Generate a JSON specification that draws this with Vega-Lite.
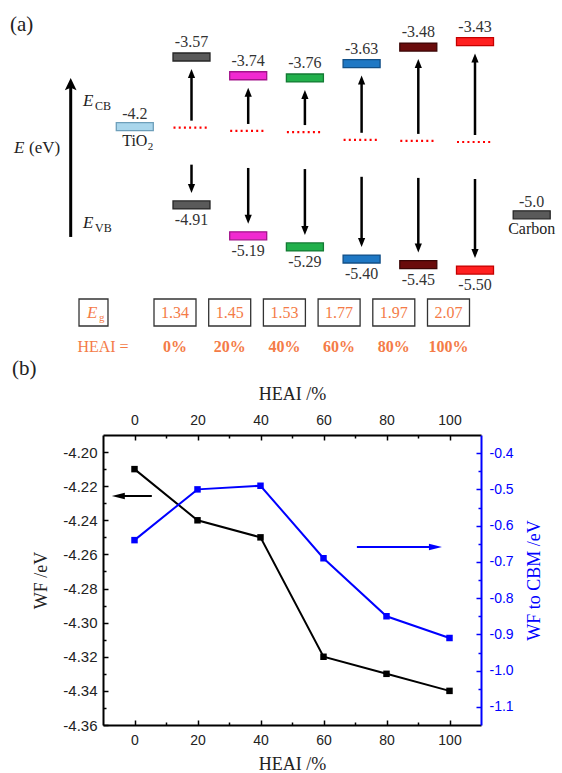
{
  "$schema": "https://vega.github.io/schema/vega-lite/v6.json",
  "autosize": {"type": "pad"},
  "padding": {"left": 10, "top": 8, "right": 0, "bottom": 0},
  "bounds": "flush",
  "spacing": 20,
  "background": "white",
  "config": {
    "view": {"stroke": null},
    "font": "Liberation Serif",
    "axis": {
      "grid": false,
      "labelFont": "Liberation Sans",
      "labelFontSize": 14,
      "labelColor": "#222",
      "titleFont": "Liberation Serif",
      "titleFontSize": 18,
      "titleFontWeight": "normal",
      "titleColor": "#222",
      "domainColor": "#000",
      "domainWidth": 2,
      "tickColor": "#000",
      "tickWidth": 1.5,
      "labelFlush": false,
      "labelOverlap": false
    }
  },
  "datasets": {
    "hea": [
      {"s": "0%", "h": 0, "cb": -3.57, "vb": -4.91, "wf": -4.21, "wfc": -0.64, "eg": "1.34", "cbl": "-3.57", "vbl": "-4.91"},
      {"s": "20%", "h": 20, "cb": -3.74, "vb": -5.19, "wf": -4.24, "wfc": -0.50, "eg": "1.45", "cbl": "-3.74", "vbl": "-5.19"},
      {"s": "40%", "h": 40, "cb": -3.76, "vb": -5.29, "wf": -4.25, "wfc": -0.49, "eg": "1.53", "cbl": "-3.76", "vbl": "-5.29"},
      {"s": "60%", "h": 60, "cb": -3.63, "vb": -5.40, "wf": -4.32, "wfc": -0.69, "eg": "1.77", "cbl": "-3.63", "vbl": "-5.40"},
      {"s": "80%", "h": 80, "cb": -3.48, "vb": -5.45, "wf": -4.33, "wfc": -0.85, "eg": "1.97", "cbl": "-3.48", "vbl": "-5.45"},
      {"s": "100%", "h": 100, "cb": -3.43, "vb": -5.50, "wf": -4.34, "wfc": -0.91, "eg": "2.07", "cbl": "-3.43", "vbl": "-5.50"}
    ],
    "ref": [
      {"s": "TiO2", "e": -4.2, "lab": "-4.2", "name": "TiO", "sub": "2"},
      {"s": "Carbon", "e": -5.0, "lab": "-5.0", "name": "Carbon", "sub": ""}
    ],
    "ann": [
      {"s": "axis", "k": "arrow", "lo": -5.2, "hi": -3.76},
      {"s": "axis", "k": "panel", "t": "(a)", "e": -3.28},
      {"s": "axis", "k": "Eaxis", "t": "E", "t2": "(eV)", "e": -4.394},
      {"s": "axis", "k": "Elev", "t": "E", "t2": "CB", "e": -3.97},
      {"s": "axis", "k": "Elev", "t": "E", "t2": "VB", "e": -5.07}
    ],
    "eglab": [{"k": "Eg", "t1": "E", "t2": "g", "t3": "HEAI ="}],
    "arrB": [
      {"c": "k", "x1": 5.5, "x2": -7.2, "y": -4.2258},
      {"c": "b", "x1": 70.6, "x2": 97.6, "y": -0.659}
    ]
  },
  "vconcat": [
    {
      "width": 440,
      "height": 407,
      "resolve": {"scale": {"x": "independent", "y": "independent"}},
      "layer": [
        {
          "layer": [
            {
              "data": {"name": "hea"},
              "mark": {"type": "rule", "color": "#000", "strokeWidth": 2.5, "yOffset": -7, "y2Offset": 16},
              "encoding": {
                "x": {"field": "s", "type": "nominal", "axis": null, "scale": {"type": "point", "domain": ["axis", "TiO2", "0%", "20%", "40%", "60%", "80%", "100%", "Carbon"], "range": [-24.9, 428.7], "padding": 0}},
                "y": {"field": "wf", "type": "quantitative", "axis": null, "scale": {"domain": [-6.8128, -3.1262], "nice": false, "zero": false}},
                "y2": {"field": "cb"}
              }
            },
            {
              "data": {"name": "hea"},
              "mark": {"type": "point", "shape": "M0,-1L-0.8,1L0.8,1Z", "size": 81, "filled": true, "color": "#000", "opacity": 1, "strokeWidth": 0, "yOffset": 16.5},
              "encoding": {
                "x": {"field": "s", "type": "nominal", "axis": null},
                "y": {"field": "cb", "type": "quantitative", "axis": null}
              }
            },
            {
              "data": {"name": "hea"},
              "mark": {"type": "rule", "color": "#000", "strokeWidth": 2.5, "yOffset": 37, "y2Offset": -16},
              "encoding": {
                "x": {"field": "s", "type": "nominal", "axis": null},
                "y": {"field": "wf", "type": "quantitative", "axis": null},
                "y2": {"field": "vb"}
              }
            },
            {
              "data": {"name": "hea"},
              "mark": {"type": "point", "shape": "M0,1L-0.8,-1L0.8,-1Z", "size": 81, "filled": true, "color": "#000", "opacity": 1, "strokeWidth": 0, "yOffset": -16.5},
              "encoding": {
                "x": {"field": "s", "type": "nominal", "axis": null},
                "y": {"field": "vb", "type": "quantitative", "axis": null}
              }
            },
            {
              "data": {"name": "hea"},
              "mark": {"type": "point", "shape": "M-1,0L1,0", "size": 1296, "filled": false, "stroke": "#FF0000", "strokeWidth": 2.2, "strokeDash": [2, 3.2], "opacity": 1},
              "encoding": {
                "x": {"field": "s", "type": "nominal", "axis": null},
                "y": {"field": "wf", "type": "quantitative", "axis": null}
              }
            },
            {
              "data": {"name": "hea"},
              "mark": {"type": "point", "shape": "M-1,-0.216L1,-0.216L1,0.216L-1,0.216Z", "size": 1369, "filled": true, "opacity": 1, "strokeWidth": 1.3},
              "encoding": {
                "x": {"field": "s", "type": "nominal", "axis": null},
                "y": {"field": "cb", "type": "quantitative", "axis": null},
                "fill": {"field": "s", "type": "nominal", "legend": null, "scale": {"domain": ["TiO2", "0%", "20%", "40%", "60%", "80%", "100%", "Carbon"], "range": ["#A9D6EC", "#5A5A5A", "#F02AD0", "#22B04C", "#1F78C4", "#6A0C0C", "#FF2020", "#5A5A5A"]}},
                "stroke": {"field": "s", "type": "nominal", "legend": null, "scale": {"domain": ["TiO2", "0%", "20%", "40%", "60%", "80%", "100%", "Carbon"], "range": ["#6E9FBA", "#262626", "#A3148C", "#137A33", "#124F86", "#3A0505", "#C40000", "#262626"]}}
              }
            },
            {
              "data": {"name": "hea"},
              "mark": {"type": "point", "shape": "M-1,-0.216L1,-0.216L1,0.216L-1,0.216Z", "size": 1369, "filled": true, "opacity": 1, "strokeWidth": 1.3},
              "encoding": {
                "x": {"field": "s", "type": "nominal", "axis": null},
                "y": {"field": "vb", "type": "quantitative", "axis": null},
                "fill": {"field": "s", "type": "nominal", "legend": null},
                "stroke": {"field": "s", "type": "nominal", "legend": null}
              }
            },
            {
              "data": {"name": "ref"},
              "mark": {"type": "point", "shape": "M-1,-0.216L1,-0.216L1,0.216L-1,0.216Z", "size": 1369, "filled": true, "opacity": 1, "strokeWidth": 1.3},
              "encoding": {
                "x": {"field": "s", "type": "nominal", "axis": null},
                "y": {"field": "e", "type": "quantitative", "axis": null},
                "fill": {"field": "s", "type": "nominal", "legend": null},
                "stroke": {"field": "s", "type": "nominal", "legend": null}
              }
            },
            {
              "data": {"name": "hea"},
              "mark": {"type": "text", "font": "Liberation Serif", "fontSize": 16, "color": "#333", "align": "center", "baseline": "alphabetic", "dy": -10},
              "encoding": {
                "x": {"field": "s", "type": "nominal", "axis": null},
                "y": {"field": "cb", "type": "quantitative", "axis": null},
                "text": {"field": "cbl"}
              }
            },
            {
              "data": {"name": "hea"},
              "mark": {"type": "text", "font": "Liberation Serif", "fontSize": 16, "color": "#333", "align": "center", "baseline": "alphabetic", "dy": 20},
              "encoding": {
                "x": {"field": "s", "type": "nominal", "axis": null},
                "y": {"field": "vb", "type": "quantitative", "axis": null},
                "text": {"field": "vbl"}
              }
            },
            {
              "data": {"name": "ref"},
              "mark": {"type": "text", "font": "Liberation Serif", "fontSize": 16, "color": "#333", "align": "center", "baseline": "alphabetic", "dy": -8},
              "encoding": {
                "x": {"field": "s", "type": "nominal", "axis": null},
                "y": {"field": "e", "type": "quantitative", "axis": null},
                "text": {"field": "lab"}
              }
            },
            {
              "data": {"name": "ref"},
              "mark": {"type": "text", "font": "Liberation Serif", "fontSize": 16, "color": "#222", "align": "center", "baseline": "alphabetic", "dy": 19.5},
              "encoding": {
                "x": {"field": "s", "type": "nominal", "axis": null},
                "y": {"field": "e", "type": "quantitative", "axis": null},
                "text": {"field": "name"}
              }
            },
            {
              "data": {"name": "ref"},
              "mark": {"type": "text", "font": "Liberation Serif", "fontSize": 11, "color": "#222", "align": "left", "baseline": "alphabetic", "dx": 13, "dy": 23},
              "encoding": {
                "x": {"field": "s", "type": "nominal", "axis": null},
                "y": {"field": "e", "type": "quantitative", "axis": null},
                "text": {"field": "sub"}
              }
            },
            {
              "data": {"name": "ann"},
              "transform": [{"filter": "datum.k == 'arrow'"}],
              "mark": {"type": "rule", "color": "#000", "strokeWidth": 3, "xOffset": -7.4, "x2Offset": -7.4, "y2Offset": 6},
              "encoding": {
                "x": {"field": "s", "type": "nominal", "axis": null},
                "y": {"field": "lo", "type": "quantitative", "axis": null},
                "y2": {"field": "hi"}
              }
            },
            {
              "data": {"name": "ann"},
              "transform": [{"filter": "datum.k == 'arrow'"}],
              "mark": {"type": "point", "shape": "M0,-1L-0.9,0.9L0,0.5L0.9,0.9Z", "size": 169, "filled": true, "color": "#000", "opacity": 1, "strokeWidth": 0, "xOffset": -7.4, "yOffset": 6.5},
              "encoding": {
                "x": {"field": "s", "type": "nominal", "axis": null},
                "y": {"field": "hi", "type": "quantitative", "axis": null}
              }
            },
            {
              "data": {"name": "ann"},
              "transform": [{"filter": "datum.k == 'panel'"}],
              "mark": {"type": "text", "font": "Liberation Serif", "fontSize": 21, "color": "#222", "align": "left", "baseline": "middle", "dx": -68.1},
              "encoding": {
                "x": {"field": "s", "type": "nominal", "axis": null},
                "y": {"field": "e", "type": "quantitative", "axis": null},
                "text": {"field": "t"}
              }
            },
            {
              "data": {"name": "ann"},
              "transform": [{"filter": "datum.k == 'Eaxis'"}],
              "mark": {"type": "text", "font": "Liberation Serif", "fontSize": 17, "fontStyle": "italic", "color": "#222", "align": "left", "baseline": "middle", "dx": -64.1},
              "encoding": {
                "x": {"field": "s", "type": "nominal", "axis": null},
                "y": {"field": "e", "type": "quantitative", "axis": null},
                "text": {"field": "t"}
              }
            },
            {
              "data": {"name": "ann"},
              "transform": [{"filter": "datum.k == 'Eaxis'"}],
              "mark": {"type": "text", "font": "Liberation Serif", "fontSize": 17, "color": "#222", "align": "left", "baseline": "middle", "dx": -49.1},
              "encoding": {
                "x": {"field": "s", "type": "nominal", "axis": null},
                "y": {"field": "e", "type": "quantitative", "axis": null},
                "text": {"field": "t2"}
              }
            },
            {
              "data": {"name": "ann"},
              "transform": [{"filter": "datum.k == 'Elev'"}],
              "mark": {"type": "text", "font": "Liberation Serif", "fontSize": 17, "fontStyle": "italic", "color": "#222", "align": "left", "baseline": "middle", "dx": 4.9},
              "encoding": {
                "x": {"field": "s", "type": "nominal", "axis": null},
                "y": {"field": "e", "type": "quantitative", "axis": null},
                "text": {"field": "t"}
              }
            },
            {
              "data": {"name": "ann"},
              "transform": [{"filter": "datum.k == 'Elev'"}],
              "mark": {"type": "text", "font": "Liberation Serif", "fontSize": 12, "color": "#222", "align": "left", "baseline": "middle", "dx": 16.9, "dy": 5},
              "encoding": {
                "x": {"field": "s", "type": "nominal", "axis": null},
                "y": {"field": "e", "type": "quantitative", "axis": null},
                "text": {"field": "t2"}
              }
            }
          ]
        },
        {
          "layer": [
            {
              "data": {"name": "hea"},
              "mark": {"type": "point", "shape": "M-1,-0.643L1,-0.643L1,0.643L-1,0.643Z", "size": 1764, "filled": false, "stroke": "#333", "strokeWidth": 1.3, "opacity": 1},
              "encoding": {
                "x": {"field": "s", "type": "nominal", "axis": null, "scale": {"type": "point", "domain": ["Eg", "0%", "20%", "40%", "60%", "80%", "100%"], "range": [17.3, 345.5], "padding": 0}},
                "y": {"datum": "box", "type": "nominal", "axis": null, "scale": {"type": "point", "domain": ["box", "pct"], "range": [304.5, 339], "padding": 0}}
              }
            },
            {
              "data": {"name": "hea"},
              "mark": {"type": "text", "font": "Liberation Serif", "fontSize": 16, "color": "#F47B47", "align": "center", "baseline": "middle"},
              "encoding": {
                "x": {"field": "s", "type": "nominal", "axis": null},
                "y": {"datum": "box", "type": "nominal", "axis": null},
                "text": {"field": "eg"}
              }
            },
            {
              "data": {"name": "hea"},
              "mark": {"type": "text", "font": "Liberation Serif", "fontSize": 16, "fontWeight": "bold", "color": "#F47B47", "align": "center", "baseline": "middle"},
              "encoding": {
                "x": {"field": "s", "type": "nominal", "axis": null},
                "y": {"datum": "pct", "type": "nominal", "axis": null},
                "text": {"field": "s"}
              }
            },
            {
              "data": {"name": "eglab"},
              "mark": {"type": "point", "shape": "M-0.69,-0.643L0.69,-0.643L0.69,0.643L-0.69,0.643Z", "size": 1764, "filled": false, "stroke": "#333", "strokeWidth": 1.3, "opacity": 1, "xOffset": -26.8},
              "encoding": {
                "x": {"field": "k", "type": "nominal", "axis": null},
                "y": {"datum": "box", "type": "nominal", "axis": null}
              }
            },
            {
              "data": {"name": "eglab"},
              "mark": {"type": "text", "font": "Liberation Serif", "fontSize": 17, "fontStyle": "italic", "color": "#F47B47", "align": "left", "baseline": "middle", "dx": -33.3},
              "encoding": {
                "x": {"field": "k", "type": "nominal", "axis": null},
                "y": {"datum": "box", "type": "nominal", "axis": null},
                "text": {"field": "t1"}
              }
            },
            {
              "data": {"name": "eglab"},
              "mark": {"type": "text", "font": "Liberation Serif", "fontSize": 11, "color": "#F47B47", "align": "left", "baseline": "alphabetic", "dx": -21.3, "dy": 8.5},
              "encoding": {
                "x": {"field": "k", "type": "nominal", "axis": null},
                "y": {"datum": "box", "type": "nominal", "axis": null},
                "text": {"field": "t2"}
              }
            },
            {
              "data": {"name": "eglab"},
              "mark": {"type": "text", "font": "Liberation Serif", "fontSize": 16, "color": "#F47B47", "align": "center", "baseline": "middle", "dx": -17.3},
              "encoding": {
                "x": {"field": "k", "type": "nominal", "axis": null},
                "y": {"datum": "pct", "type": "nominal", "axis": null},
                "text": {"field": "t3"}
              }
            }
          ]
        }
      ]
    },
    {
      "width": 378,
      "height": 290,
      "title": {"text": "(b)", "anchor": "start", "frame": "group", "align": "left", "dx": -91, "offset": 6, "font": "Liberation Serif", "fontSize": 21, "fontWeight": "normal", "color": "#222"},
      "resolve": {"scale": {"y": "independent"}, "axis": {"x": "independent", "y": "independent"}},
      "layer": [
        {
          "data": {"name": "hea"},
          "mark": {"type": "line", "color": "#000", "strokeWidth": 2, "point": {"shape": "square", "size": 42, "filled": true, "color": "#000", "opacity": 1}},
          "encoding": {
            "x": {"field": "h", "type": "quantitative", "scale": {"domain": [-10, 110], "nice": false, "zero": false},
                  "axis": {"orient": "bottom", "values": [0, 20, 40, 60, 80, 100], "title": "HEAI /%", "tickSize": -5, "labelPadding": 13, "titlePadding": 8}},
            "y": {"field": "wf", "type": "quantitative", "scale": {"domain": [-4.36, -4.19], "nice": false, "zero": false},
                  "axis": {"orient": "left", "values": [-4.36, -4.34, -4.32, -4.3, -4.28, -4.26, -4.24, -4.22, -4.2], "format": ".2f", "labelExpr": "replace(datum.label, '\u2212', '-')", "labelFontSize": 15, "title": "WF /eV", "tickSize": -5, "labelPadding": 11, "titlePadding": 12}}
          }
        },
        {
          "data": {"name": "hea"},
          "mark": {"type": "line", "color": "#0000FF", "strokeWidth": 2, "point": {"shape": "square", "size": 42, "filled": true, "color": "#0000FF", "opacity": 1}},
          "encoding": {
            "x": {"field": "h", "type": "quantitative",
                  "axis": {"orient": "top", "values": [0, 20, 40, 60, 80, 100], "title": "HEAI /%", "tickSize": -5, "labelPadding": 13, "titlePadding": 10}},
            "y": {"field": "wfc", "type": "quantitative", "scale": {"domain": [-1.15, -0.35], "nice": false, "zero": false},
                  "axis": {"orient": "right", "values": [-1.1, -1.0, -0.9, -0.8, -0.7, -0.6, -0.5, -0.4], "format": ".1f", "labelExpr": "replace(datum.label, '\u2212', '-')", "title": "WF to CBM /eV", "titleAngle": 270, "titleBaseline": "top", "titleColor": "#0000FF", "labelColor": "#0000FF", "tickColor": "#0000FF", "domainColor": "#0000FF", "tickSize": -5, "labelPadding": 13, "titlePadding": 12}}
          }
        },
        {
          "data": {"name": "hea"},
          "mark": {"type": "point", "opacity": 0},
          "encoding": {
            "x": {"field": "h", "type": "quantitative",
                  "axis": {"orient": "bottom", "values": [10, 30, 50, 70, 90], "labels": false, "domain": false, "title": null, "tickSize": -3}},
            "y": {"field": "wf", "type": "quantitative", "scale": {"domain": [-4.36, -4.19], "nice": false, "zero": false},
                  "axis": {"orient": "left", "values": [-4.35, -4.33, -4.31, -4.29, -4.27, -4.25, -4.23, -4.21], "labels": false, "domain": false, "title": null, "tickSize": -3}}
          }
        },
        {
          "data": {"name": "hea"},
          "mark": {"type": "point", "opacity": 0},
          "encoding": {
            "x": {"field": "h", "type": "quantitative",
                  "axis": {"orient": "top", "values": [10, 30, 50, 70, 90], "labels": false, "domain": false, "title": null, "tickSize": -3}},
            "y": {"field": "wfc", "type": "quantitative", "scale": {"domain": [-1.15, -0.35], "nice": false, "zero": false},
                  "axis": {"orient": "right", "values": [-1.05, -0.95, -0.85, -0.75, -0.65, -0.55, -0.45], "labels": false, "domain": false, "title": null, "tickSize": -3, "tickColor": "#0000FF"}}
          }
        },
        {
          "data": {"name": "arrB"},
          "transform": [{"filter": "datum.c == 'k'"}],
          "mark": {"type": "rule", "color": "#000", "strokeWidth": 2, "x2Offset": 6},
          "encoding": {
            "x": {"field": "x1", "type": "quantitative", "axis": null},
            "x2": {"field": "x2"},
            "y": {"field": "y", "type": "quantitative", "axis": null, "scale": {"domain": [-4.36, -4.19], "nice": false, "zero": false}}
          }
        },
        {
          "data": {"name": "arrB"},
          "transform": [{"filter": "datum.c == 'k'"}],
          "mark": {"type": "point", "shape": "M-1,0L1,-0.5L1,0.5Z", "size": 169, "filled": true, "color": "#000", "opacity": 1, "strokeWidth": 0, "xOffset": 6.5},
          "encoding": {
            "x": {"field": "x2", "type": "quantitative", "axis": null},
            "y": {"field": "y", "type": "quantitative", "axis": null, "scale": {"domain": [-4.36, -4.19], "nice": false, "zero": false}}
          }
        },
        {
          "data": {"name": "arrB"},
          "transform": [{"filter": "datum.c == 'b'"}],
          "mark": {"type": "rule", "color": "#0000FF", "strokeWidth": 2, "x2Offset": -6},
          "encoding": {
            "x": {"field": "x1", "type": "quantitative", "axis": null},
            "x2": {"field": "x2"},
            "y": {"field": "y", "type": "quantitative", "axis": null, "scale": {"domain": [-1.15, -0.35], "nice": false, "zero": false}}
          }
        },
        {
          "data": {"name": "arrB"},
          "transform": [{"filter": "datum.c == 'b'"}],
          "mark": {"type": "point", "shape": "M1,0L-1,-0.5L-1,0.5Z", "size": 169, "filled": true, "color": "#0000FF", "opacity": 1, "strokeWidth": 0, "xOffset": -6.5},
          "encoding": {
            "x": {"field": "x2", "type": "quantitative", "axis": null},
            "y": {"field": "y", "type": "quantitative", "axis": null, "scale": {"domain": [-1.15, -0.35], "nice": false, "zero": false}}
          }
        }
      ]
    }
  ]
}
